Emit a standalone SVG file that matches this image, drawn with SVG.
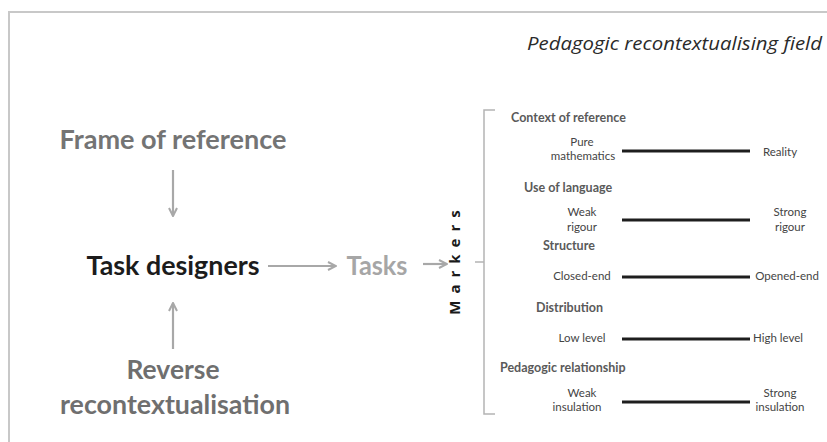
<svg xmlns="http://www.w3.org/2000/svg" width="827" height="442" viewBox="0 0 827 442">
<style>
.big{font-family:Lato,"Open Sans","Liberation Sans",sans-serif;font-weight:bold;font-size:26px;text-anchor:middle}
.hd{font-family:Lato,"Open Sans","Liberation Sans",sans-serif;font-weight:bold;font-size:12.5px;fill:#5a5a5a}
.lb{font-family:Lato,"Open Sans","Liberation Sans",sans-serif;font-size:11.5px;fill:#444;text-anchor:middle}
.arr{stroke:#a8a8a8;stroke-width:2.2;fill:none}
.scale{stroke:#1e1e1e;stroke-width:3}
.frame{stroke:#c8c8c8;stroke-width:2;fill:none}
.brk{stroke:#b4b4b4;stroke-width:1.5;fill:none}
</style>
<defs>
<marker id="ah" viewBox="0 0 10 10" refX="9" refY="5" markerWidth="10" markerHeight="10" markerUnits="userSpaceOnUse" orient="auto">
<path d="M1,1 L9,5 L1,9" fill="none" stroke="#a8a8a8" stroke-width="2"/>
</marker>
</defs>
<rect width="827" height="442" fill="#fff"/>
<path class="frame" d="M9,442 V12 H827"/>
<text x="822" y="50" font-family="'Open Sans',Lato,sans-serif" font-style="italic" font-size="19" fill="#2a2a2a" text-anchor="end" textLength="295" lengthAdjust="spacingAndGlyphs">Pedagogic recontextualising field</text>

<g id="frame-of-reference"><text class="big" x="173" y="149" fill="#747474" textLength="227" lengthAdjust="spacingAndGlyphs">Frame of reference</text></g>
<g id="task-designers"><text class="big" x="173" y="275" fill="#1c1c1c" textLength="173" lengthAdjust="spacingAndGlyphs">Task designers</text></g>
<g id="tasks"><text class="big" x="377" y="275" fill="#a6a6a6" textLength="61" lengthAdjust="spacingAndGlyphs">Tasks</text></g>
<g id="reverse-recontextualisation">
<text class="big" x="173" y="379" fill="#6f6f6f" textLength="93" lengthAdjust="spacingAndGlyphs">Reverse</text>
<text class="big" x="175" y="414" fill="#6f6f6f" textLength="230" lengthAdjust="spacingAndGlyphs">recontextualisation</text>
</g>

<g id="connectors">
<line class="arr" x1="173" y1="170" x2="173" y2="216" marker-end="url(#ah)"/>
<line class="arr" x1="173" y1="349" x2="173" y2="303" marker-end="url(#ah)"/>
<line class="arr" x1="268" y1="266" x2="336" y2="266" marker-end="url(#ah)"/>
<line class="arr" x1="423" y1="264" x2="447" y2="264" marker-end="url(#ah)"/>
</g>

<g id="markers">
<text x="0" y="0" transform="translate(460,259) rotate(-90)" font-family="'Open Sans',Lato,sans-serif" font-weight="bold" font-size="15" fill="#1a1a1a" text-anchor="middle" letter-spacing="7">Markers</text>
<path class="brk" d="M495,110 H484 V414 H495 M484,262 H475"/>
</g>

<g id="context-of-reference">
<text class="hd" x="511" y="122">Context of reference</text>
<text class="lb" x="582" y="146">Pure</text>
<text class="lb" x="583" y="160">mathematics</text>
<line class="scale" x1="622" y1="151" x2="750" y2="151"/>
<text class="lb" x="780" y="156">Reality</text>
</g>
<g id="use-of-language">
<text class="hd" x="524" y="192">Use of language</text>
<text class="lb" x="582" y="216">Weak</text>
<text class="lb" x="582" y="231">rigour</text>
<line class="scale" x1="622" y1="220" x2="750" y2="220"/>
<text class="lb" x="790" y="216">Strong</text>
<text class="lb" x="790" y="231">rigour</text>
</g>
<g id="structure">
<text class="hd" x="543" y="250">Structure</text>
<text class="lb" x="582" y="280">Closed-end</text>
<line class="scale" x1="622" y1="277" x2="750" y2="277"/>
<text class="lb" x="787" y="280">Opened-end</text>
</g>
<g id="distribution">
<text class="hd" x="536" y="312">Distribution</text>
<text class="lb" x="582" y="342">Low level</text>
<line class="scale" x1="622" y1="339" x2="750" y2="339"/>
<text class="lb" x="778" y="342">High level</text>
</g>
<g id="pedagogic-relationship">
<text class="hd" x="500" y="372">Pedagogic relationship</text>
<text class="lb" x="582" y="397">Weak</text>
<text class="lb" x="577" y="411">insulation</text>
<line class="scale" x1="622" y1="402" x2="750" y2="402"/>
<text class="lb" x="780" y="397">Strong</text>
<text class="lb" x="780" y="411">insulation</text>
</g>
</svg>
